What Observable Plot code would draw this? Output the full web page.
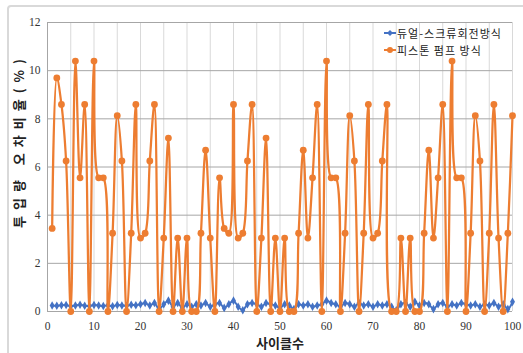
<!DOCTYPE html>
<html><head><meta charset="utf-8">
<script src="https://cdn.jsdelivr.net/npm/d3@7"></script>
<script src="https://cdn.jsdelivr.net/npm/@observablehq/plot@0.6"></script>
<style>
body{margin:0;background:#fff;width:523px;height:353px;overflow:hidden;position:relative;}
#chart{position:absolute;left:0;top:0}
#frame{position:absolute;left:7px;top:5px;width:540px;height:370px;border:2px solid #d9d9d9;border-radius:4px;box-sizing:border-box;pointer-events:none}
#legend{position:absolute;left:384px;top:25px;font-family:"Noto Sans CJK KR";font-size:11px;letter-spacing:1px;color:#222;line-height:16.5px}
#legend div{display:flex;align-items:center;height:16.5px;line-height:16.5px}
#legend svg{margin-right:1px}
</style></head><body>
<div id="chart"></div><div id="frame"></div><div id="legend"></div>
<script>
const seriesNames = ["듀얼-스크류회전방식", "피스톤 펌프 방식"];
const seriesColors = ["#4472C4", "#ED7D31"];
const xTicks = [0,10,20,30,40,50,60,70,80,90,100];
const yTicks = [0,2,4,6,8,10,12];
const cycles = d3.range(1, 101);
const piston = [
 3.45,9.7,8.6,6.25,0,10.4,5.55,8.6,0,10.4,
 5.55,5.55,0,3.25,8.13,6.25,0,3.25,8.6,3.05,
 3.25,6.25,8.6,0,3.05,7.2,0,3.05,0,3.05,
 0,0,3.25,6.7,3.05,0,5.55,3.45,3.25,8.6,
 3.05,3.25,6.25,8.6,0,3.05,7.2,0,3.05,0,
 3.05,0,0,3.25,6.7,3.05,5.55,8.6,0,10.4,
 5.55,5.55,0,3.25,8.13,6.25,0,3.25,8.6,3.05,
 3.25,6.25,8.6,0,0,3.05,0,3.05,0,0,
 3.25,6.7,3.05,5.55,8.6,0,10.4,5.55,5.55,0,
 3.25,8.13,6.25,0,3.25,8.6,3.05,0,3.25,8.13
];
const dual = [
 0.25,0.24,0.26,0.27,0.22,0.25,0.28,0.24,0.23,0.27,
 0.25,0.23,0.26,0.22,0.27,0.25,0.24,0.28,0.26,0.3,
 0.35,0.25,0.35,0.1,0.3,0.45,0.2,0.35,0.15,0.3,
 0.2,0.3,0.25,0.35,0.2,0.3,0.35,0.15,0.3,0.45,
 0.2,0.05,0.3,0.35,0.3,0.2,0.35,0.3,0.25,0.15,
 0.3,0.25,0.1,0.3,0.25,0.3,0.2,0.25,0.3,0.45,
 0.35,0.3,0.2,0.35,0.3,0.2,0.35,0.25,0.3,0.2,
 0.3,0.25,0.3,0.2,0.05,0.3,0.35,0.2,0.4,0.25,
 0.35,0.3,0.1,0.3,0.35,0.2,0.3,0.25,0.35,0.3,
 0.25,0.3,0.2,0.3,0.25,0.35,0.2,0.3,0.1,0.4
];
const dualData = cycles.map((c,i)=>({cycle:c, value:dual[i], series:seriesNames[0]}));
const pistonData = cycles.map((c,i)=>({cycle:c, value:piston[i], series:seriesNames[1]}));

const tickFont = {fontFamily:"'Liberation Serif', serif", fontSize:11.5, fill:"#333"};
const chart = Plot.plot({
  width:523, height:353,
  marginLeft:47, marginTop:22, marginRight:11, marginBottom:42,
  style:{background:"transparent", overflow:"visible"},
  x:{domain:[0,100]},
  y:{domain:[0,12]},
  marks:[
    Plot.gridX(d3.range(5,101,5), {stroke:"#d9d9d9", strokeOpacity:1}),
    Plot.gridY(yTicks.slice(1), {stroke:"#a6a6a6", strokeOpacity:1}),
    Plot.ruleX([0], {stroke:"#a6a6a6"}),
    Plot.ruleY([0], {stroke:"#a6a6a6"}),
    Plot.line(dualData, {x:"cycle", y:"value", stroke:seriesColors[0], strokeWidth:2, curve:"catmull-rom"}),
    Plot.dot(dualData, {x:"cycle", y:"value", symbol:"diamond", r:2.6, fill:seriesColors[0], stroke:"none"}),
    Plot.line(pistonData, {x:"cycle", y:"value", stroke:seriesColors[1], strokeWidth:2.25, curve:"catmull-rom"}),
    Plot.dot(pistonData, {x:"cycle", y:"value", r:3.4, fill:seriesColors[1], stroke:"none"}),
    Plot.axisX({ticks:xTicks, tickSize:0, tickPadding:10, ...tickFont,
      label:"사이클수", labelAnchor:"center", labelArrow:"none", labelOffset:36}),
    Plot.axisY({ticks:yTicks, tickSize:0, tickPadding:7, ...tickFont,
      label:"투입량 오차비율(%)", labelAnchor:"center", labelArrow:"none", labelOffset:33})
  ]
});
chart.querySelectorAll("g[aria-label='x-axis label'] text, g[aria-label='y-axis label'] text").forEach(t=>{
  t.setAttribute("font-family","'Noto Sans CJK KR'");
  t.setAttribute("font-weight","700");
  t.setAttribute("font-size","13");
  t.setAttribute("fill","#222");
});
chart.querySelectorAll("g[aria-label='y-axis label'] text").forEach(t=>{
  t.setAttribute("letter-spacing","6");
  const tr = t.getAttribute("transform") || "";
  const m = tr.match(/translate\(([^,\s]+)[,\s]+([^)]+)\)/);
  if (m) t.setAttribute("transform", `translate(${m[1]},140) rotate(-90)`);
});
document.getElementById("chart").appendChild(chart);

const legend = document.getElementById("legend");
seriesNames.forEach((name,i)=>{
  const row = document.createElement("div");
  const sym = i===0
    ? `<svg width="12" height="10"><line x1="0" y1="5" x2="12" y2="5" stroke="${seriesColors[i]}" stroke-width="2"/><path d="M6 2L9 5L6 8L3 5Z" fill="${seriesColors[i]}"/></svg>`
    : `<svg width="12" height="10"><line x1="0" y1="5" x2="12" y2="5" stroke="${seriesColors[i]}" stroke-width="2"/><circle cx="6" cy="5" r="3" fill="${seriesColors[i]}"/></svg>`;
  row.innerHTML = sym + `<span>${name}</span>`;
  legend.appendChild(row);
});
</script>
</body></html>
